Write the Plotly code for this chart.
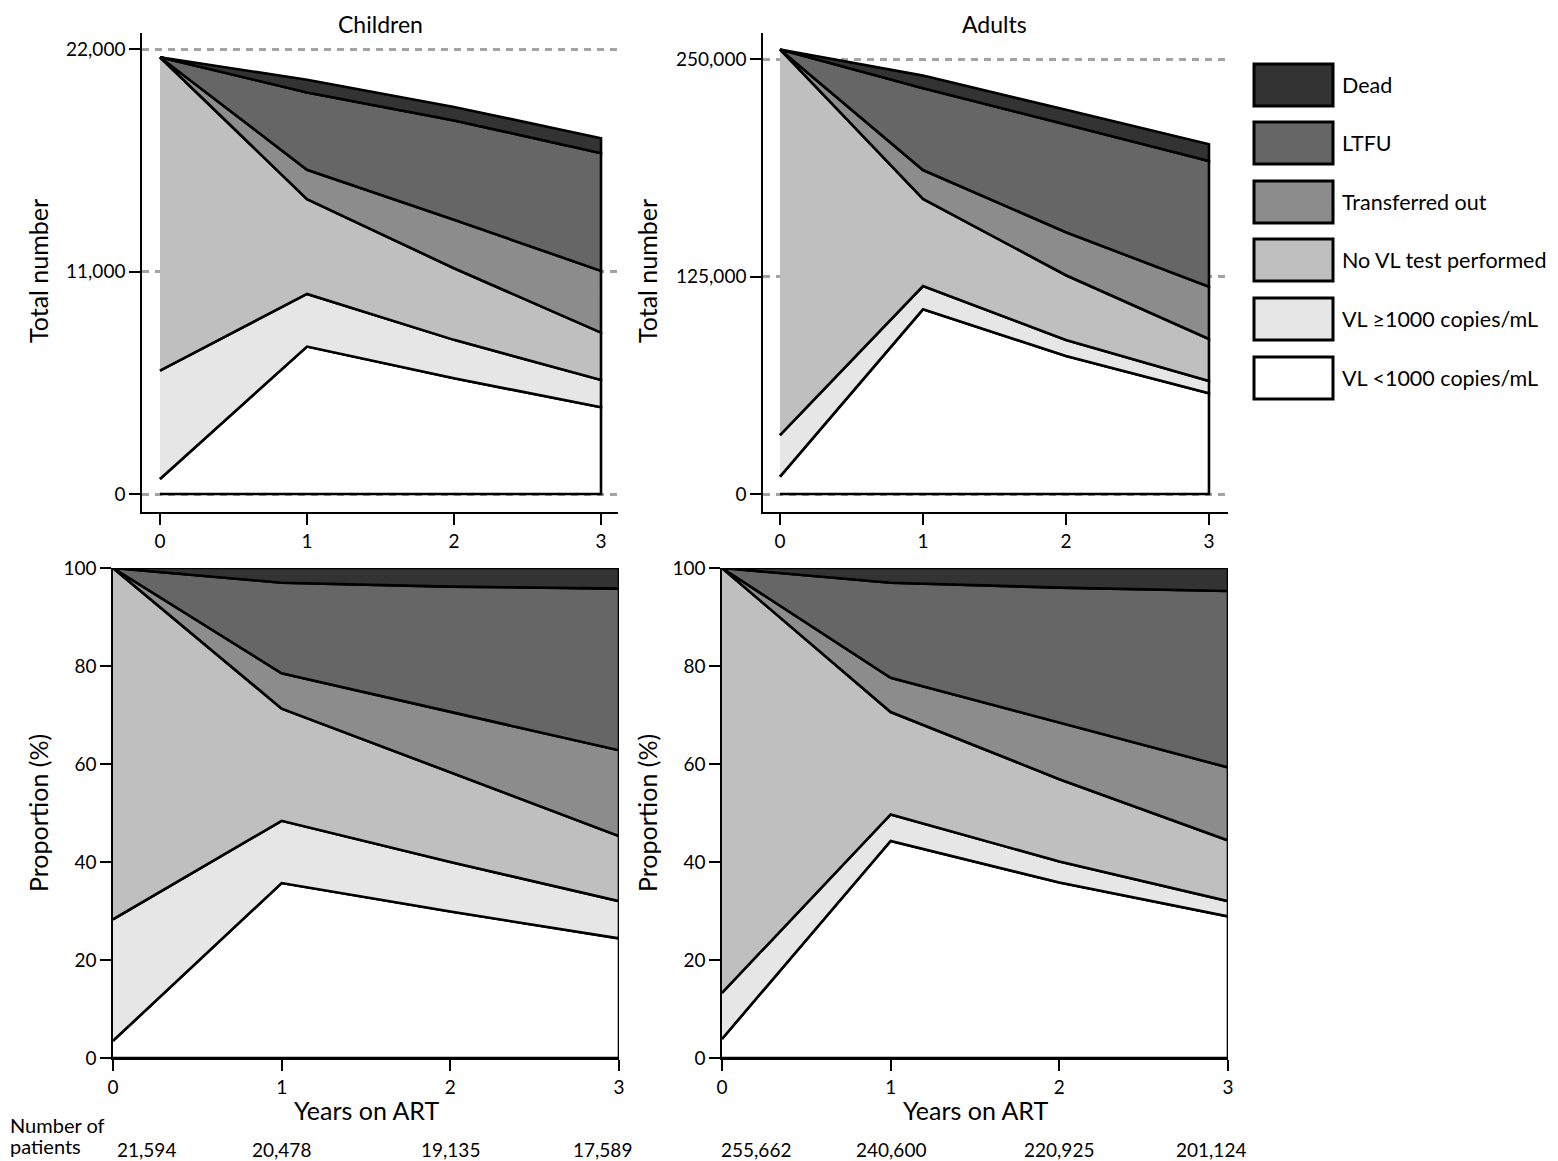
import numpy as np
import plotly.graph_objects as go

# the page puts the figure 8 px in from the top-left corner
PAGE_W, PAGE_H, OFF = 1558, 1161, 8
W, H = PAGE_W - OFF, PAGE_H - OFF

years = [0, 1, 2, 3]
labels = ["VL <1000 copies/mL", "VL \u22651000 copies/mL", "No VL test performed",
          "Transferred out", "LTFU", "Dead"]
fills = ["#ffffff", "#e6e6e6", "#bfbfbf", "#8c8c8c", "#666666", "#333333"]

# children, total number
ch_low_n = [740, 7290, 5720, 4290]
ch_high_n = [5360, 2600, 1900, 1350]
ch_novl_n = [15494, 4690, 3540, 2340]
ch_trans_n = [0, 1450, 2400, 3050]
ch_ltfu_n = [0, 3820, 4910, 5820]
ch_dead_n = [0, 628, 665, 739]

# adults, total number
ad_low_n = [10000, 106200, 79400, 57900]
ad_high_n = [23900, 13400, 9200, 7100]
ad_novl_n = [221762, 50100, 37200, 24100]
ad_trans_n = [0, 16600, 24700, 30100]
ad_ltfu_n = [0, 47000, 62100, 72300]
ad_dead_n = [0, 7300, 8325, 9624]

# children, proportion (%)
ch_low_p = [3.5, 35.7, 29.9, 24.4]
ch_high_p = [24.8, 12.7, 10.1, 7.6]
ch_novl_p = [71.7, 22.9, 18.3, 13.3]
ch_trans_p = [0, 7.2, 12.3, 17.5]
ch_ltfu_p = [0, 18.5, 25.6, 33.0]
ch_dead_p = [0, 3.0, 3.8, 4.2]

# adults, proportion (%)
ad_low_p = [3.9, 44.3, 35.8, 28.9]
ad_high_p = [9.4, 5.4, 4.3, 3.1]
ad_novl_p = [86.7, 20.9, 16.8, 12.4]
ad_trans_p = [0, 7.0, 11.6, 14.9]
ad_ltfu_p = [0, 19.4, 27.5, 36.0]
ad_dead_p = [0, 3.0, 4.0, 4.7]

# number of patients row
ch_patients = [21594, 20478, 19135, 17589]
ad_patients = [255662, 240600, 220925, 201124]
patients_x = [0.2, 1, 2, 2.9]

FONT = "Lato"


def px(x):
    return (x - OFF) / W


def py(y):
    return 1 - (y - OFF) / H


panels = [
    ("x", "y", [ch_low_n, ch_high_n, ch_novl_n, ch_trans_n, ch_ltfu_n, ch_dead_n]),
    ("x2", "y2", [ad_low_n, ad_high_n, ad_novl_n, ad_trans_n, ad_ltfu_n, ad_dead_n]),
    ("x3", "y3", [ch_low_p, ch_high_p, ch_novl_p, ch_trans_p, ch_ltfu_p, ch_dead_p]),
    ("x4", "y4", [ad_low_p, ad_high_p, ad_novl_p, ad_trans_p, ad_ltfu_p, ad_dead_p]),
]

fig = go.Figure()
for xa, ya, stack in panels:
    vals = np.array(stack, dtype=float)
    upper = np.cumsum(vals, axis=0)
    lower = upper - vals
    for i in range(len(labels)):
        fig.add_trace(go.Scatter(
            x=years + years[::-1],
            y=list(upper[i]) + list(lower[i][::-1]),
            fill="toself", fillcolor=fills[i], mode="lines",
            line=dict(color="black", width=2.6),
            name=labels[i], showlegend=False, hoverinfo="skip",
            xaxis=xa, yaxis=ya))

tickfont = dict(family=FONT, size=19, color="black")
common_x = dict(tickvals=years, ticks="outside", ticklen=11, tickwidth=1.5,
                tickcolor="black", showline=True, linecolor="black", linewidth=1.5,
                showgrid=False, zeroline=False, tickfont=tickfont, automargin=False)
common_y = dict(ticks="outside", ticklen=11, tickwidth=1.5, tickcolor="black",
                showline=True, linecolor="black", linewidth=1.5, zeroline=False,
                showgrid=True, gridcolor="#a3a3a3", gridwidth=2.5, griddash="7px,6px",
                tickfont=tickfont, tickformat=",d", automargin=False)

fig.update_layout(
    xaxis=dict(common_x, domain=[px(142), px(618)], range=[-0.1224, 3.1156], anchor="y"),
    yaxis=dict(common_y, domain=[py(512), py(33)], range=[-890, 22791], anchor="x",
               tickvals=[0, 11000, 22000]),
    xaxis2=dict(common_x, domain=[px(763), px(1228)], range=[-0.119, 3.133], anchor="y2"),
    yaxis2=dict(common_y, domain=[py(512), py(33)], range=[-10350, 265100], anchor="x2",
                tickvals=[0, 125000, 250000]),
    xaxis3=dict(common_x, domain=[px(113), px(619)], range=[0, 3], anchor="y3"),
    yaxis3=dict(common_y, domain=[py(1058), py(568)], range=[0, 100], anchor="x3",
                tickvals=[0, 20, 40, 60, 80, 100]),
    xaxis4=dict(common_x, domain=[px(722), px(1228)], range=[0, 3], anchor="y4"),
    yaxis4=dict(common_y, domain=[py(1058), py(568)], range=[0, 100], anchor="x4",
                tickvals=[0, 20, 40, 60, 80, 100]),
)

ann = []


def text(x, y, s, size, xref="paper", xanchor="center", angle=0, yanchor="middle"):
    ann.append(dict(x=x, y=y, xref=xref, yref="paper", text=s, showarrow=False,
                    xanchor=xanchor, yanchor=yanchor, textangle=angle,
                    font=dict(family=FONT, size=size, color="black")))


text(px(380), py(8), "Children", 23, yanchor="top")
text(px(995), py(8), "Adults", 23, yanchor="top")
text(px(38), py(271), "Total number", 25, angle=-90)
text(px(647), py(271), "Total number", 25, angle=-90)
text(px(38), py(813), "Proportion (%)", 25, angle=-90)
text(px(647), py(813), "Proportion (%)", 25, angle=-90)
text(px(366), py(1110), "Years on ART", 25)
text(px(975), py(1110), "Years on ART", 25)
text(0, py(1125), "Number of", 20, xanchor="left")
text(0, py(1146), "patients", 20, xanchor="left")
for xv, n in zip(patients_x, ch_patients):
    text(xv, py(1149), f"{n:,}", 19, xref="x3")
for xv, n in zip(patients_x, ad_patients):
    text(xv, py(1149), f"{n:,}", 19, xref="x4")

# legend, top to bottom
shapes = []
row_tops = [64, 122, 181, 239, 298, 357]
for top, i in zip(row_tops, range(len(labels) - 1, -1, -1)):
    shapes.append(dict(type="rect", xref="paper", yref="paper",
                       x0=px(1254), x1=px(1333), y0=py(top + 42), y1=py(top),
                       fillcolor=fills[i], line=dict(color="black", width=3)))
    text(px(1340), py(top + 21), labels[i], 21.5, xanchor="left")

fig.update_layout(
    width=W, height=H, margin=dict(l=0, r=0, t=0, b=0),
    paper_bgcolor="white", plot_bgcolor="white", template="none",
    showlegend=False, annotations=ann, shapes=shapes,
    font=dict(family=FONT, color="black"),
)

fig.write_html("out.html")
